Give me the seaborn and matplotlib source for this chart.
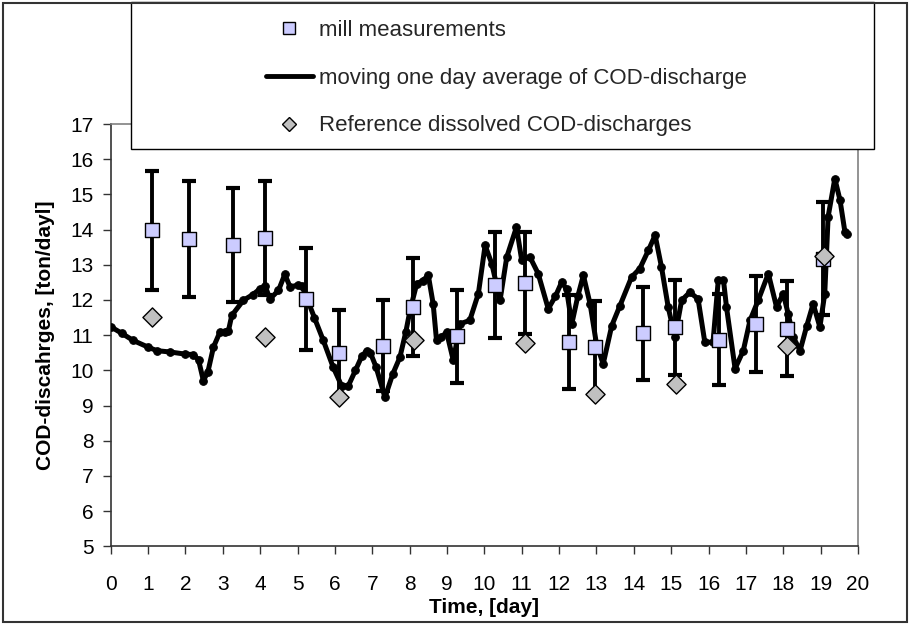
import matplotlib
matplotlib.use("Agg")
import matplotlib.pyplot as plt
from matplotlib.lines import Line2D
from matplotlib.patches import Rectangle
import seaborn as sns

# moving one day average of COD-discharge (traced)
avg_t = [0.00, 0.30, 0.60, 1.00, 1.23, 1.60, 2.00, 2.21, 2.35, 2.48, 2.60, 2.75,
         2.92, 3.05, 3.15, 3.24, 3.55, 3.80, 4.00, 4.13, 4.26, 4.49, 4.66, 4.80,
         5.00, 5.11, 5.24, 5.45, 5.69, 5.95, 6.18, 6.36, 6.55, 6.72, 6.85, 6.95,
         7.10, 7.34, 7.55, 7.74, 7.90, 8.01, 8.19, 8.35, 8.50, 8.63, 8.72, 8.85,
         8.99, 9.17, 9.35, 9.61, 9.84, 10.02, 10.20, 10.42, 10.60, 10.86, 11.00,
         11.22, 11.44, 11.71, 11.90, 12.07, 12.20, 12.34, 12.50, 12.65, 12.83,
         13.00, 13.18, 13.41, 13.63, 13.94, 14.16, 14.39, 14.57, 14.74, 14.92,
         15.10, 15.28, 15.50, 15.72, 15.90, 16.12, 16.26, 16.40, 16.48, 16.71,
         16.93, 17.11, 17.33, 17.60, 17.82, 18.00, 18.13, 18.27, 18.45, 18.63,
         18.80, 18.98, 19.11, 19.20, 19.38, 19.52, 19.65, 19.70]
avg_v = [11.24, 11.05, 10.85, 10.66, 10.56, 10.52, 10.46, 10.45, 10.30, 9.71, 9.95, 10.66,
         11.08, 11.10, 11.12, 11.56, 11.99, 12.15, 12.32, 12.41, 12.03, 12.27, 12.73, 12.37,
         12.42, 12.41, 12.08, 11.50, 10.85, 10.10, 9.56, 9.56, 10.00, 10.40, 10.56, 10.50,
         10.10, 9.23, 9.90, 10.37, 11.10, 11.70, 12.46, 12.55, 12.70, 11.89, 10.85, 10.95,
         11.08, 10.28, 11.32, 11.42, 12.18, 13.55, 13.03, 11.99, 13.22, 14.07, 13.13,
         13.22, 12.75, 11.75, 12.10, 12.51, 12.30, 11.32, 12.10, 12.70, 11.89,
         10.75, 10.18, 11.27, 11.84, 12.65, 12.89, 13.41, 13.84, 12.94, 11.80,
         10.94, 11.99, 12.22, 12.03, 10.80, 10.80, 12.56, 12.56, 11.80, 10.05,
         10.56, 11.42, 11.99, 12.75, 11.80, 12.18, 11.61, 10.94, 10.56, 11.27,
         11.89, 11.23, 12.18, 14.36, 15.45, 14.83, 13.93, 13.88]

# mill measurements with error bars
mill_t = [1.11, 2.10, 3.26, 4.12, 5.24, 6.11, 7.28, 8.10, 9.27, 10.28,
          11.09, 12.26, 12.96, 14.25, 15.10, 16.29, 17.26, 18.10, 19.07]
mill_v = [13.98, 13.72, 13.55, 13.76, 12.03, 10.48, 10.70, 11.80, 10.97, 12.43,
          12.49, 10.80, 10.66, 11.05, 11.23, 10.87, 11.32, 11.18, 13.17]
mill_err = [1.69, 1.65, 1.62, 1.63, 1.44, 1.24, 1.29, 1.40, 1.32, 1.50,
            1.45, 1.33, 1.30, 1.32, 1.35, 1.30, 1.37, 1.35, 1.60]

# reference dissolved COD-discharges
ref_t = [1.10, 4.14, 6.12, 8.12, 11.10, 12.97, 15.13, 18.10, 19.09]
ref_v = [11.51, 10.94, 9.25, 10.85, 10.77, 9.34, 9.61, 10.68, 13.24]

x_ticks = list(range(0, 21))
y_ticks = list(range(5, 18))

sns.set_theme(style="white")
plt.rcParams['font.family'] = ['Liberation Sans', 'DejaVu Sans']

W, H = 910, 624
fig = plt.figure(figsize=(W / 100, H / 100), dpi=100)
ax = fig.add_axes([110.7 / W, (H - 546.3) / H, (858 - 110.7) / W, (546.3 - 124) / H])

ax.errorbar(mill_t, mill_v, yerr=mill_err, fmt='none', ecolor='black',
            elinewidth=2.8, capsize=5.2, capthick=3, zorder=2)
sns.lineplot(x=avg_t, y=avg_v, color='black', linewidth=3.6, marker='o',
             markersize=5.5, markeredgecolor='black', ax=ax, zorder=3)
sns.scatterplot(x=mill_t, y=mill_v, marker='s', s=100, color='#CCCCFF',
                edgecolor='black', linewidth=1, ax=ax, zorder=4, legend=False)
sns.scatterplot(x=ref_t, y=ref_v, marker='D', s=95, color='#C0C0C0',
                edgecolor='black', linewidth=1, ax=ax, zorder=5, legend=False)

ax.set_xlim(0, 20)
ax.set_ylim(5, 17)
ax.set_xticks(x_ticks)
ax.set_yticks(y_ticks)
ax.tick_params(axis='both', direction='out', length=5.5, width=1, color='#333333',
               labelsize=15, labelcolor='black', left=True, bottom=True)
ax.tick_params(axis='y', pad=7)
ax.tick_params(axis='x', pad=15)

for side in ['left', 'bottom']:
    ax.spines[side].set_color('#333333')
    ax.spines[side].set_linewidth(1.2)
for side in ['top', 'right']:
    ax.spines[side].set_color('#808080')
    ax.spines[side].set_linewidth(1.2)

ax.set_xlabel("Time, [day]", fontsize=15, fontweight='bold', color='black')
ax.set_ylabel("COD-discahrges, [ton/dayl]", fontsize=15, fontweight='bold', color='black')
ax.xaxis.set_label_coords(0.5, -0.122)
ax.yaxis.set_label_coords(-0.075, 0.5)

# legend box (Excel style, white, overlapping plot area top)
fig.patches.append(Rectangle((131 / W, 1 - 149 / H), (874 - 131) / W, (149 - 2) / H,
                             transform=fig.transFigure, facecolor='white',
                             edgecolor='black', linewidth=1, zorder=4))
handles = [
    Line2D([], [], marker='s', ls='none', markerfacecolor='#CCCCFF',
           markeredgecolor='black', markersize=9),
    Line2D([], [], color='black', linewidth=3.5),
    Line2D([], [], marker='D', ls='none', markerfacecolor='#C0C0C0',
           markeredgecolor='black', markersize=7.5),
]
labels = ["mill measurements", "moving one day average of COD-discharge",
          "Reference dissolved COD-discharges"]
fig.legend(handles, labels, loc='upper left', bbox_to_anchor=(255 / W, 1 - 9 / H),
           frameon=False, borderpad=0, fontsize=16, handlelength=2.1,
           handletextpad=0.3, labelspacing=1.2)

# outer chart border
fig.patches.append(Rectangle((3 / W, 2 / H), (907 - 3) / W, (621 - 2) / H,
                             transform=fig.transFigure, fill=False,
                             edgecolor='#333333', linewidth=1.5, zorder=6))

fig.savefig("out.png", dpi=100)
